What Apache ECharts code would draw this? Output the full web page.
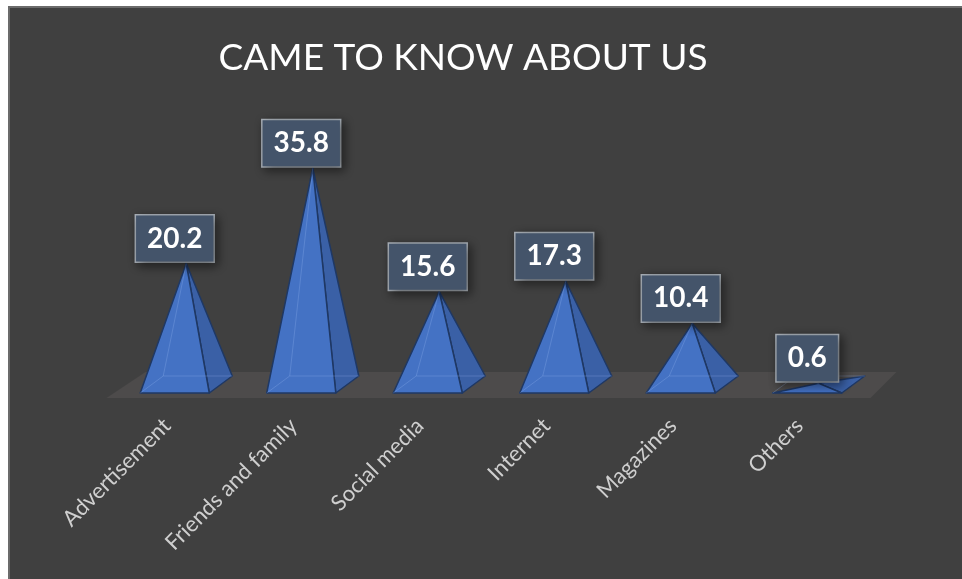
<!DOCTYPE html>
<html>
<head>
<meta charset="utf-8">
<script src="https://cdn.jsdelivr.net/npm/echarts@6/dist/echarts.min.js"></script>
<style>
  html, body { margin: 0; padding: 0; background: #ffffff; width: 962px; height: 579px; overflow: hidden; }
  #frame { position: absolute; left: 8px; top: 6px; width: 970px; height: 590px; background: #404040; border-left: 2px solid #6b6b6b; border-top: 2px solid #6b6b6b; box-sizing: border-box; }
  #chart { position: absolute; left: 0; top: 0; width: 962px; height: 579px; }
</style>
</head>
<body>
<div id="frame"></div>
<div id="chart"></div>
<script>
// Survey answers: how people came to know about us (percent)
const categories = ['Advertisement', 'Friends and family', 'Social media', 'Internet', 'Magazines', 'Others'];
const values = [20.2, 35.8, 15.6, 17.3, 10.4, 0.6];
const titleText = 'CAME TO KNOW ABOUT US';

const chart = echarts.init(document.getElementById('chart'), null, { renderer: 'canvas' });

// Oblique depth offset used for the pyramid bases
const DEPTH_X = 23, DEPTH_Y = -17;

function renderPyramid(params, api) {
  const i = api.value(0);
  const v = api.value(1);
  const zero = api.coord([i, 0]);
  const top = api.coord([i, v]);
  const band = api.size([1, 0])[0];
  const half = band * 0.273;
  const cx = zero[0];
  const fl = [cx - half, zero[1] + 6];
  const fr = [cx + half, zero[1] + 6];
  const br = [fr[0] + DEPTH_X, fr[1] + DEPTH_Y];
  const bl = [fl[0] + DEPTH_X, fl[1] + DEPTH_Y];
  const apex = [cx + DEPTH_X / 2, top[1]];
  const edge = '#1f3864';
  const hidden = 'rgba(150,182,240,0.28)';
  return {
    type: 'group',
    children: [
      { type: 'polygon', shape: { points: [fr, br, apex] },
        style: { fill: '#3a60a6', stroke: edge, lineWidth: 1.5, lineJoin: 'round' } },
      { type: 'polygon', shape: { points: [fl, fr, apex] },
        style: { fill: '#4472c4', stroke: edge, lineWidth: 1.5, lineJoin: 'round' } },
      { type: 'polyline', shape: { points: [fl, bl, apex] },
        style: { fill: null, stroke: hidden, lineWidth: 1 } },
      { type: 'polyline', shape: { points: [bl, br] },
        style: { fill: null, stroke: hidden, lineWidth: 1 } },
      { type: 'text', z2: 100,
        style: {
          x: cx, y: apex[1] - 2,
          text: v.toFixed(1),
          fill: '#ffffff',
          font: 'bold 28px Lato',
          align: 'center', verticalAlign: 'bottom',
          backgroundColor: '#44546a',
          borderColor: '#a9b0b8', borderWidth: 1.5,
          padding: [9, 11, 9, 11],
          shadowBlur: 10, shadowColor: 'rgba(0,0,0,0.45)',
          shadowOffsetX: 3, shadowOffsetY: 3
        } }
    ]
  };
}

function renderFloor(params, api) {
  const cs = params.coordSys;
  const zeroY = api.coord([0, 0])[1];
  const x0 = cs.x, x1 = cs.x + cs.width;
  return {
    type: 'polygon',
    shape: { points: [[x0 - 5, zeroY + 11], [x0 + 34, zeroY - 15], [x1 + 26, zeroY - 15], [x1, zeroY + 11]] },
    style: { fill: '#4d4b4b' }
  };
}

chart.setOption({
  backgroundColor: 'transparent',
  animation: false,
  title: {
    text: titleText,
    left: 458, top: 35, textAlign: 'center',
    textStyle: { color: '#ffffff', fontFamily: 'Lato', fontWeight: 'normal', fontSize: 37 }
  },
  grid: { left: 111.5, right: 91.5, top: 142.6, bottom: 192, containLabel: false },
  xAxis: {
    type: 'category',
    data: categories,
    axisLine: { show: false },
    axisTick: { show: false },
    axisLabel: { rotate: 45, margin: 43, verticalAlign: 'bottom', color: '#cfcfcf', fontFamily: 'Lato', fontSize: 22 }
  },
  yAxis: { type: 'value', min: 0, max: 40, show: false, splitLine: { show: false } },
  series: [
    { type: 'custom', name: 'floor', renderItem: renderFloor, data: [[0, 0]], clip: false, z: 1, silent: true },
    { type: 'custom', name: 'share', renderItem: renderPyramid, clip: false, z: 2,
      data: values.map((v, i) => [i, v]) }
  ]
});
</script>
</body>
</html>
